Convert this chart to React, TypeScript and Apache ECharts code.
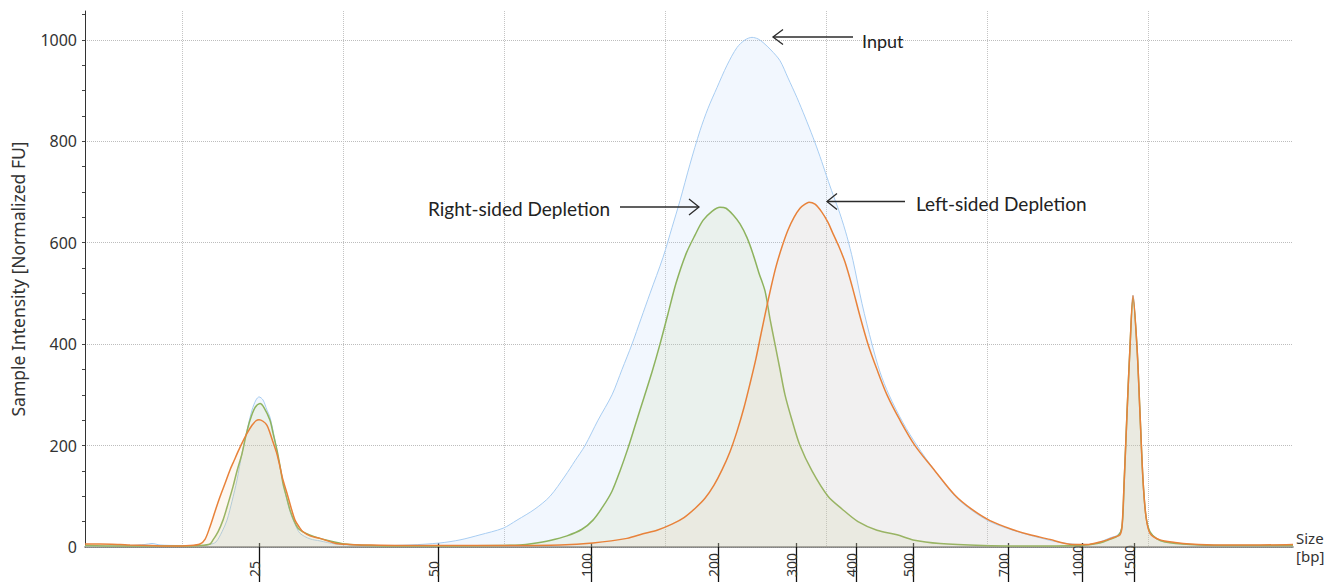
import { useEffect, useRef } from 'react';
import * as echarts from 'echarts';

// Ladder sizes (bp) and their positions along the run axis
const sizeLabels = ['25', '50', '100', '200', '300', '400', '500', '700', '1000', '1500'];
const sizePositions = [259, 438, 591, 718, 796, 856, 913, 1008, 1082, 1134];
// Vertical dotted guide positions along the run axis
const guidePositions = [182, 343, 504, 665, 826, 987, 1148];
const yMajorTicks = [0, 200, 400, 600, 800, 1000];
const yMinorTicks = [50, 100, 150, 200, 250, 300, 350, 400, 450, 500, 550, 600, 650, 700, 750, 800, 850, 900, 950, 1000, 1050];

const inputTrace: [number, number][] = [
  [85, 2], [100, 2], [130, 3], [145, 5], [152, 7], [160, 4], [180, 3], [200, 3], [210, 5], [216, 10], [222, 30], [227, 53],
  [232, 90], [237, 132], [242, 185], [247, 230], [252, 270], [256, 290], [259, 296], [263, 290], [267, 270], [270, 256],
  [275, 210], [280, 158], [285, 110], [290, 70], [295, 45], [300, 27], [310, 16], [320, 12], [335, 6], [350, 4], [380, 3],
  [410, 4], [440, 8], [460, 14], [480, 24], [503, 37], [517, 53], [535, 75], [550, 100], [565, 140], [575, 170], [585, 200],
  [598, 250], [612, 300], [622, 350], [632, 400], [641, 450], [650, 500], [663, 571], [672, 630], [680, 683], [690, 755],
  [700, 821], [708, 865], [717, 906], [727, 950], [737, 985], [745, 1000], [752, 1005], [758, 1002], [763, 995], [771, 980],
  [780, 959], [788, 925], [797, 886], [805, 848], [813, 808], [820, 770], [827, 729], [833, 695], [840, 657], [847, 612],
  [853, 565], [862, 480], [872, 400], [880, 345], [889, 300], [903, 245], [917, 200], [935, 150], [955, 100], [972, 72],
  [990, 50], [1013, 33], [1040, 18], [1060, 9], [1080, 5], [1090, 5], [1100, 10], [1110, 18], [1118, 24], [1122, 40],
  [1124, 120], [1127, 263], [1130, 394], [1133, 496], [1137, 394], [1140, 263], [1143, 132], [1146, 60], [1150, 30],
  [1157, 16], [1165, 10], [1190, 5], [1220, 3], [1260, 3], [1293, 3],
];

const rightSidedTrace: [number, number][] = [
  [85, 3], [120, 2], [150, 2], [180, 2], [200, 3], [210, 6], [213, 14], [218, 30], [223, 53], [228, 85], [233, 119],
  [237, 150], [242, 184], [246, 220], [250, 250], [255, 275], [260, 283], [264, 275], [270, 250], [273, 225], [277, 191],
  [280, 160], [283, 125], [287, 95], [290, 73], [294, 52], [298, 37], [305, 28], [315, 20], [330, 12], [345, 6], [370, 3],
  [400, 2], [450, 2], [500, 3], [520, 4], [533, 7], [550, 13], [567, 22], [582, 35], [593, 53], [603, 80], [612, 110],
  [620, 150], [628, 195], [636, 245], [644, 295], [652, 345], [660, 400], [668, 460], [676, 520], [686, 578], [695, 615],
  [703, 644], [712, 662], [720, 670], [726, 668], [733, 655], [740, 637], [747, 610], [753, 578], [759, 540], [765, 505],
  [770, 450], [775, 400], [780, 350], [785, 300], [792, 250], [800, 200], [812, 150], [828, 100], [842, 75], [858, 50],
  [877, 33], [897, 24], [913, 14], [940, 7], [983, 3], [1020, 2], [1080, 3], [1100, 8], [1110, 15], [1118, 22], [1122, 40],
  [1124, 120], [1127, 263], [1130, 394], [1133, 490], [1137, 394], [1140, 263], [1143, 132], [1146, 60], [1150, 30],
  [1157, 16], [1165, 10], [1190, 5], [1220, 3], [1293, 3],
];

const leftSidedTrace: [number, number][] = [
  [85, 6], [100, 6], [120, 5], [130, 4], [150, 3], [170, 2], [190, 3], [200, 6], [205, 15], [210, 40], [215, 70], [220, 99],
  [225, 125], [230, 152], [234, 170], [238, 188], [242, 205], [247, 224], [252, 240], [256, 249], [259, 251], [263, 248],
  [267, 240], [270, 225], [273, 207], [277, 183], [280, 158], [283, 132], [287, 106], [291, 78], [295, 53], [299, 40],
  [303, 30], [310, 22], [320, 17], [336, 7], [350, 5], [367, 4], [400, 3], [450, 3], [500, 3], [560, 4], [593, 8], [627, 17],
  [643, 26], [657, 33], [672, 45], [684, 58], [695, 76], [705, 96], [714, 122], [722, 152], [730, 188], [737, 228],
  [744, 275], [750, 322], [756, 372], [761, 420], [766, 467], [771, 512], [776, 553], [782, 592], [788, 625], [794, 650],
  [800, 668], [805, 676], [809, 680], [815, 676], [822, 660], [828, 640], [833, 618], [839, 592], [845, 562], [852, 515],
  [860, 455], [868, 400], [877, 350], [887, 300], [900, 250], [915, 200], [935, 150], [955, 102], [972, 74], [990, 52],
  [1013, 34], [1030, 24], [1050, 15], [1063, 8], [1075, 5], [1087, 5], [1100, 10], [1107, 14], [1115, 20], [1120, 24],
  [1122, 40], [1124, 120], [1127, 263], [1130, 394], [1133, 496], [1137, 394], [1140, 263], [1143, 132], [1146, 60],
  [1150, 27], [1160, 14], [1175, 9], [1190, 6], [1220, 4], [1260, 4], [1293, 5],
];

const AXIS_FONT = '"Noto Sans", "Open Sans", sans-serif';
const NOTE_FONT = 'Lato, "Noto Sans", sans-serif';

export default function App() {
  const ref = useRef<HTMLDivElement>(null);

  useEffect(() => {
    if (!ref.current) return;
    const chart = echarts.init(ref.current, undefined, { renderer: 'svg' });

    const arrowStyle = { stroke: '#2b2b2b', lineWidth: 1.3, fill: 'none' };
    const noteStyle = (text: string, size: number) => ({
      text,
      fontSize: size,
      fontFamily: NOTE_FONT,
      fill: '#222',
      align: 'left',
      verticalAlign: 'middle',
    });

    chart.setOption({
      animation: false,
      backgroundColor: '#ffffff',
      grid: { left: 85, right: 40, top: 11, bottom: 35, containLabel: false },
      xAxis: [
        {
          type: 'value',
          min: 85,
          max: 1293,
          axisLine: { show: true, lineStyle: { color: '#707070', width: 1.6 } },
          axisTick: { show: true, customValues: sizePositions, length: 35, lineStyle: { color: '#111', width: 1.3 } },
          axisLabel: {
            customValues: sizePositions,
            formatter: (v: number) => {
              const i = sizePositions.indexOf(v);
              return i >= 0 ? sizeLabels[i] : '';
            },
            rotate: 90,
            align: 'left',
            verticalAlign: 'bottom',
            lineHeight: 10,
            margin: 30,
            fontSize: 14,
            color: '#333',
            fontFamily: AXIS_FONT,
          },
          splitLine: { show: false },
          name: 'Size\n[bp]',
          nameLocation: 'end',
          nameGap: 3,
          nameTextStyle: { align: 'left', verticalAlign: 'middle', fontSize: 15, lineHeight: 18, color: '#333', fontFamily: AXIS_FONT },
        },
        {
          type: 'value',
          min: 85,
          max: 1293,
          position: 'bottom',
          axisLine: { show: false },
          axisTick: { show: false, customValues: guidePositions },
          axisLabel: { show: false, customValues: guidePositions },
          splitLine: { show: true, lineStyle: { type: 'dotted', color: '#c4c4c4', width: 1 } },
        },
        {
          type: 'value',
          min: 85,
          max: 1293,
          position: 'bottom',
          axisLine: { show: false },
          axisTick: { show: true, inside: true, length: 4, customValues: sizePositions, lineStyle: { color: '#111', width: 1.3 } },
          axisLabel: { show: false },
          splitLine: { show: false },
        },
      ],
      yAxis: [
        {
          type: 'value',
          min: 0,
          max: 1057,
          axisLine: { show: true, lineStyle: { color: '#333', width: 1 } },
          axisTick: { show: false, customValues: yMajorTicks },
          axisLabel: {
            customValues: yMajorTicks,
            formatter: (v: number) => String(v),
            fontSize: 16,
            color: '#333',
            margin: 8,
            fontFamily: AXIS_FONT,
          },
          splitLine: { show: true, lineStyle: { type: 'dotted', color: '#bdbdbd', width: 1 } },
          name: 'Sample Intensity [Normalized FU]',
          nameLocation: 'middle',
          nameGap: 58,
          nameTextStyle: { fontSize: 17.5, color: '#333', fontFamily: AXIS_FONT },
        },
        {
          type: 'value',
          min: 0,
          max: 1057,
          position: 'left',
          axisLine: { show: false },
          axisTick: { show: true, customValues: yMinorTicks, length: 3, lineStyle: { color: '#444', width: 1 } },
          axisLabel: { show: false },
          splitLine: { show: false },
        },
      ],
      series: [
        {
          name: 'Input',
          type: 'line',
          data: inputTrace,
          symbol: 'none',
          smooth: 0.3,
          lineStyle: { color: '#a8cdf2', width: 1 },
          areaStyle: { color: 'rgba(180, 212, 248, 0.25)' },
          z: 2,
        },
        {
          name: 'Right-sided Depletion',
          type: 'line',
          data: rightSidedTrace,
          symbol: 'none',
          smooth: 0.3,
          lineStyle: { color: '#8db35e', width: 1.5 },
          areaStyle: { color: 'rgba(190, 208, 135, 0.2)' },
          z: 3,
        },
        {
          name: 'Left-sided Depletion',
          type: 'line',
          data: leftSidedTrace,
          symbol: 'none',
          smooth: 0.3,
          lineStyle: { color: '#e8823a', width: 1.5 },
          areaStyle: { color: 'rgba(240, 190, 140, 0.18)' },
          z: 4,
        },
      ],
      graphic: [
        { type: 'text', x: 862, y: 41, style: noteStyle('Input', 18), z: 10 },
        { type: 'line', shape: { x1: 853, y1: 37, x2: 773, y2: 37 }, style: arrowStyle, z: 10 },
        { type: 'polyline', shape: { points: [[783, 29.5], [773, 37], [783, 44.5]] }, style: arrowStyle, z: 10 },

        { type: 'text', x: 428, y: 208, style: noteStyle('Right-sided Depletion', 19), z: 10 },
        { type: 'line', shape: { x1: 620, y1: 207, x2: 699, y2: 207 }, style: arrowStyle, z: 10 },
        { type: 'polyline', shape: { points: [[689, 199], [699, 207], [689, 215]] }, style: arrowStyle, z: 10 },

        { type: 'text', x: 916, y: 203, style: noteStyle('Left-sided Depletion', 19), z: 10 },
        { type: 'line', shape: { x1: 905, y1: 201.5, x2: 827, y2: 201.5 }, style: arrowStyle, z: 10 },
        { type: 'polyline', shape: { points: [[837, 193.5], [827, 201.5], [837, 209.5]] }, style: arrowStyle, z: 10 },
      ],
    });

    return () => chart.dispose();
  }, []);

  return (
    <div
      ref={ref}
      style={{ position: 'absolute', left: 0, top: 0, width: 1333, height: 582, background: '#fff' }}
    />
  );
}
